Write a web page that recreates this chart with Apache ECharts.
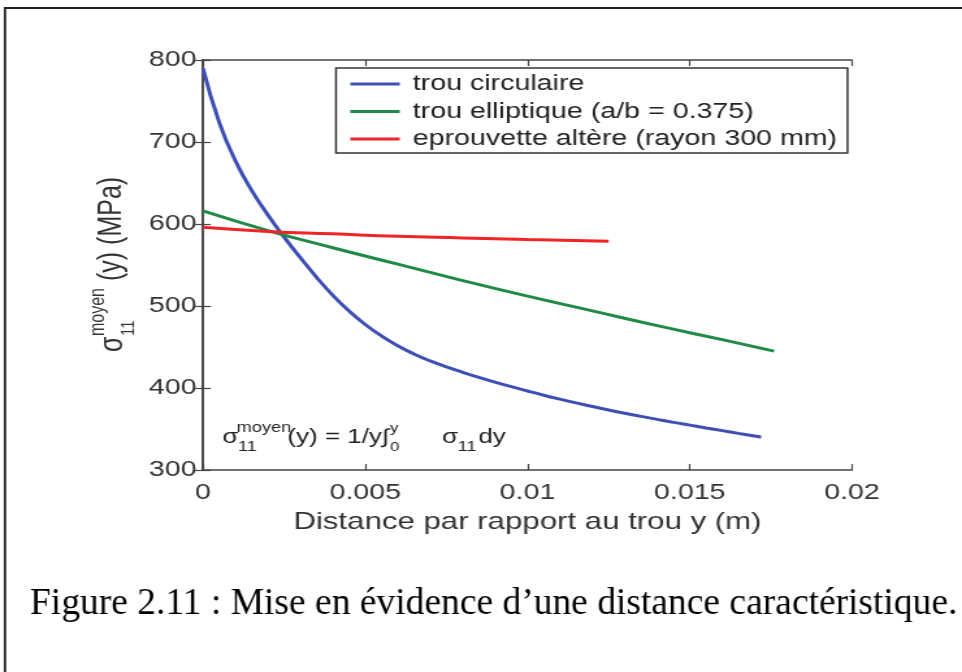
<!DOCTYPE html>
<html>
<head>
<meta charset="utf-8">
<script src="https://cdn.jsdelivr.net/npm/echarts@6/dist/echarts.min.js"></script>
<style>
  html, body { margin: 0; padding: 0; background: #fff; overflow: hidden; }
  /* the original figure is stretched horizontally, so the chart is drawn narrow and scaled */
  #chart { width: 740px; height: 672px; transform: scaleX(1.3); transform-origin: 0 0; }
</style>
</head>
<body>
<div id="chart"></div>
<script>
const SX = 1.3;
const FONT = "'Liberation Sans', Arial, Helvetica, sans-serif";

const seriesNames = ['trou circulaire', 'trou elliptique (a/b = 0.375)', 'eprouvette altère (rayon 300 mm)'];

const circX = [0, 0.0005, 0.001, 0.0015, 0.002, 0.0025, 0.003, 0.0035, 0.004, 0.0045, 0.005, 0.0055,
               0.006, 0.0065, 0.007, 0.0075, 0.008, 0.0085, 0.009, 0.0095, 0.010, 0.0105, 0.011, 0.0115,
               0.012, 0.0125, 0.013, 0.0135, 0.014, 0.0145, 0.015, 0.0155, 0.016, 0.0165, 0.017, 0.0172];
const circY = [790, 724, 677, 641, 611, 584, 559, 535, 513, 494, 477.5, 463.5,
               451.5, 441.5, 433, 425.8, 419.2, 413, 407.2, 401.6, 396.3, 391.2, 386.4, 381.8,
               377.4, 373.2, 369.2, 365.4, 361.7, 358.1, 354.7, 351.3, 348, 344.7, 341.4, 340];

const ellX = [0, 0.002, 0.004, 0.006, 0.008, 0.010, 0.012, 0.014, 0.016, 0.0176];
const ellY = [616, 592, 571, 551, 531, 512, 494, 476, 459, 445];

const eprX = [0, 0.002, 0.004, 0.006, 0.008, 0.010, 0.0125];
const eprY = [596, 591, 588, 585, 583, 581, 579];

const xTickLabels = ['0', '0.005', '0.01', '0.015', '0.02'];
const yTickLabels = ['300', '400', '500', '600', '700', '800'];

const colors = ['#3d4fb4', '#1f8a45', '#f02424'];

const chart = echarts.init(document.getElementById('chart'));

const axisLine = { show: true, lineStyle: { color: '#444', width: 1.5 } };
const axisTick = { show: true, inside: true, length: 6, lineStyle: { color: '#444', width: 1.2 } };

function pairs(xs, ys) {
    return xs.map((x, i) => [x, ys[i]]);
}

function lineSeries(i, xs, ys) {
    return {
        name: seriesNames[i], type: 'line', data: pairs(xs, ys),
        smooth: true, symbol: 'none',
        lineStyle: { color: colors[i], width: 3 }, itemStyle: { color: colors[i] }
    };
}

const option = {
    animation: false,
    textStyle: { fontFamily: FONT },
    grid: { left: 203 / SX, right: 740 - 852 / SX, top: 60, bottom: 202 },
    legend: {
        orient: 'vertical',
        left: 336 / SX,
        top: 68,
        icon: 'rect',
        itemWidth: 38,
        itemHeight: 3,
        itemGap: 5.5,
        padding: [5, 8, 3, 11],
        borderColor: '#333',
        borderWidth: 1.5,
        backgroundColor: '#fff',
        textStyle: { fontSize: 22, color: '#222', fontFamily: FONT, padding: [0, 0, 0, 5], lineHeight: 22 },
        data: seriesNames
    },
    xAxis: [
        {
            type: 'value', min: 0, max: 0.02, interval: 0.005, position: 'bottom',
            axisLine: axisLine, axisTick: axisTick, splitLine: { show: false },
            axisLabel: {
                fontSize: 22, color: '#333', margin: 12,
                formatter: (v) => xTickLabels[Math.round(v / 0.005)]
            },
            name: 'Distance par rapport au trou y (m)',
            nameLocation: 'middle', nameGap: 40,
            nameTextStyle: { fontSize: 24, color: '#333' }
        },
        {
            type: 'value', min: 0, max: 0.02, interval: 0.005, position: 'top',
            axisLine: axisLine, axisTick: axisTick, splitLine: { show: false },
            axisLabel: { show: false }
        }
    ],
    yAxis: [
        {
            type: 'value', min: 300, max: 800, interval: 100, position: 'left',
            axisLine: axisLine, axisTick: axisTick, splitLine: { show: false },
            axisLabel: {
                fontSize: 22, color: '#333', margin: 5,
                formatter: (v) => yTickLabels[Math.round((v - 300) / 100)]
            }
        },
        {
            type: 'value', min: 300, max: 800, interval: 100, position: 'right',
            axisLine: axisLine, axisTick: axisTick, splitLine: { show: false },
            axisLabel: { show: false }
        }
    ],
    series: [
        lineSeries(0, circX, circY),
        lineSeries(1, ellX, ellY),
        lineSeries(2, eprX, eprY)
    ],
    graphic: [
        // page frame
        {
            type: 'rect', z: -10, silent: true,
            shape: { x: 5 / SX, y: 8, width: 1000, height: 800 },
            style: { fill: 'none', stroke: '#222', lineWidth: 1.8 }
        },
        // y axis title, rotated
        {
            type: 'group', x: 113 / SX, y: 352, rotation: Math.PI / 2,
            children: [
                { type: 'text', x: 0, y: 0, style: { text: 'σ', fontSize: 25, fontFamily: FONT, fill: '#333', align: 'left', verticalAlign: 'middle' } },
                { type: 'text', x: 16, y: -11, style: { text: 'moyen', fontSize: 16, fontFamily: FONT, fill: '#333', align: 'left', verticalAlign: 'middle' } },
                { type: 'text', x: 16, y: 12, style: { text: '11', fontSize: 15, fontFamily: FONT, fill: '#333', align: 'left', verticalAlign: 'middle' } },
                { type: 'text', x: 71, y: -1, style: { text: '(y) (MPa)', fontSize: 25, fontFamily: FONT, fill: '#333', align: 'left', verticalAlign: 'middle' } }
            ]
        },
        // formula inside the plot
        {
            type: 'group', x: 0, y: 0,
            children: [
                { type: 'text', x: 171, y: 437, style: { text: 'σ', fontSize: 20, fontFamily: FONT, fill: '#222', verticalAlign: 'middle' } },
                { type: 'text', x: 182, y: 428, style: { text: 'moyen', fontSize: 14, fontFamily: FONT, fill: '#222', verticalAlign: 'middle' } },
                { type: 'text', x: 183, y: 447, style: { text: '11', fontSize: 14, fontFamily: FONT, fill: '#222', verticalAlign: 'middle' } },
                { type: 'text', x: 221, y: 437, style: { text: '(y) = 1/y∫', fontSize: 20, fontFamily: FONT, fill: '#222', verticalAlign: 'middle' } },
                { type: 'text', x: 300, y: 428, style: { text: 'y', fontSize: 13, fontFamily: FONT, fill: '#222', verticalAlign: 'middle' } },
                { type: 'text', x: 300, y: 447, style: { text: '0', fontSize: 13, fontFamily: FONT, fill: '#222', verticalAlign: 'middle' } },
                { type: 'text', x: 340, y: 437, style: { text: 'σ', fontSize: 20, fontFamily: FONT, fill: '#222', verticalAlign: 'middle' } },
                { type: 'text', x: 352, y: 447, style: { text: '11', fontSize: 14, fontFamily: FONT, fill: '#222', verticalAlign: 'middle' } },
                { type: 'text', x: 368, y: 437, style: { text: 'dy', fontSize: 20, fontFamily: FONT, fill: '#222', verticalAlign: 'middle' } }
            ]
        },
        // figure caption (undo the horizontal stretch)
        {
            type: 'text', x: 30 / SX, y: 604, scaleX: 1 / SX,
            style: {
                text: 'Figure 2.11 : Mise en évidence d’une distance caractéristique.',
                fontSize: 37.5, fontFamily: "'Liberation Serif', 'Times New Roman', serif",
                fill: '#000', verticalAlign: 'middle'
            }
        }
    ]
};

chart.setOption(option);
</script>
</body>
</html>
